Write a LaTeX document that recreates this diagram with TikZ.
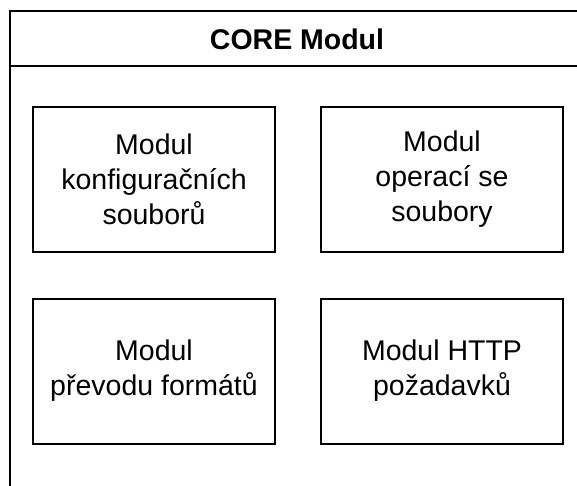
\documentclass[tikz,border=0pt]{standalone}
\usepackage{fontspec}
\setmainfont{Liberation Sans}
\begin{document}
\begin{tikzpicture}[x=1pt,y=-1pt,
  modbox/.style={draw=black, line width=2pt, minimum width=242pt, minimum height=145pt, inner sep=0pt, align=center, font=\fontsize{28.5}{35}\selectfont},
  frame/.style={draw=black, line width=2pt}]
\useasboundingbox (0,0) rectangle (577,486);
\clip (0,0) rectangle (577,486);
\fill[white] (0,0) rectangle (577,486);
\coordinate (tr) at (590,11);
\coordinate (tl) at (10,11);
\coordinate (bl) at (10,500);
\coordinate (hl) at (10,66);
\coordinate (hr) at (590,66);
\draw[frame] (tr) -- (tl) -- (bl);
\draw[frame] (hl) -- (hr);
\node[font=\fontsize{28.5}{36}\selectfont\bfseries] (title) at (297,39) {CORE Modul};
\node[modbox] (m1) at (154,179.5) {Modul\\konfiguračních\\souborů};
\node[modbox] (m2) at (442,179.5) {Modul\\operací se\\soubory};
\node[modbox] (m3) at (154,371) {Modul\\převodu formátů};
\node[modbox] (m4) at (442,371) {Modul HTTP\\požadavků};
\end{tikzpicture}
\end{document}
